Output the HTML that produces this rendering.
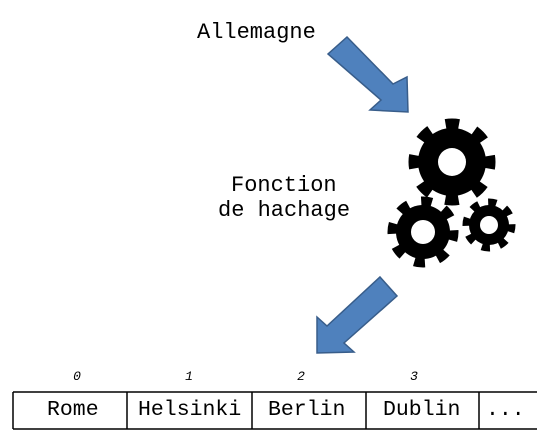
<!DOCTYPE html>
<html><head><meta charset="utf-8"><style>
html,body{margin:0;padding:0;background:#fff;}
body{width:559px;height:447px;position:relative;overflow:hidden;font-family:"Liberation Mono","DejaVu Sans Mono",monospace;}
.t{position:absolute;font-size:22px;color:#000;white-space:pre;}
.c{position:absolute;font-size:21.5px;color:#000;white-space:pre;top:398px;}
.i{position:absolute;font-size:13px;font-style:italic;width:20px;text-align:center;top:369px;}
</style></head><body>
<svg width="559" height="447" style="position:absolute;left:0;top:0">
<polygon points="347,37 393,84 407,77 408,112 370,110 381,100 328,54" fill="#4f81bd" stroke="#385d8a" stroke-width="1.5"/>
<polygon points="380,277 397,296 344,343 354,352 317,353 317,317 327,326" fill="#4f81bd" stroke="#385d8a" stroke-width="1.5"/>
<g fill="#000">
<circle cx="452" cy="162" r="34"/>
<circle cx="452" cy="162" r="37" fill="none" stroke="#000" stroke-width="13" stroke-dasharray="13 16.06" stroke-dashoffset="6.5"/>
<circle cx="452" cy="162" r="14" fill="#fff"/>
<circle cx="423" cy="232" r="27"/>
<circle cx="423" cy="232" r="30" fill="none" stroke="#000" stroke-width="11" stroke-dasharray="10.5 13.06" stroke-dashoffset="2"/>
<circle cx="423" cy="232" r="12" fill="#fff"/>
<circle cx="489" cy="225" r="20"/>
<circle cx="489" cy="225" r="22" fill="none" stroke="#000" stroke-width="9" stroke-dasharray="8 9.28" stroke-dashoffset="1"/>
<circle cx="489" cy="225" r="9" fill="#fff"/>
</g>
<g stroke="#000" stroke-width="1.5" fill="none">
<line x1="13" y1="392" x2="537" y2="392"/>
<line x1="13" y1="429" x2="537" y2="429"/>
<line x1="13" y1="392" x2="13" y2="429"/>
<line x1="127" y1="392" x2="127" y2="429"/>
<line x1="252" y1="392" x2="252" y2="429"/>
<line x1="366" y1="392" x2="366" y2="429"/>
<line x1="479" y1="392" x2="479" y2="429"/>
</g>
</svg>
<div class="t" style="left:197px;top:20px">Allemagne</div>
<div class="t" style="left:231px;top:173px">Fonction</div>
<div class="t" style="left:218px;top:198px">de hachage</div>
<div class="i" style="left:67px">0</div>
<div class="i" style="left:179px">1</div>
<div class="i" style="left:291px">2</div>
<div class="i" style="left:404px">3</div>
<div class="c" style="left:47px">Rome</div>
<div class="c" style="left:138px">Helsinki</div>
<div class="c" style="left:268px">Berlin</div>
<div class="c" style="left:383px">Dublin</div>
<div class="c" style="left:486px">...</div>
</body></html>
